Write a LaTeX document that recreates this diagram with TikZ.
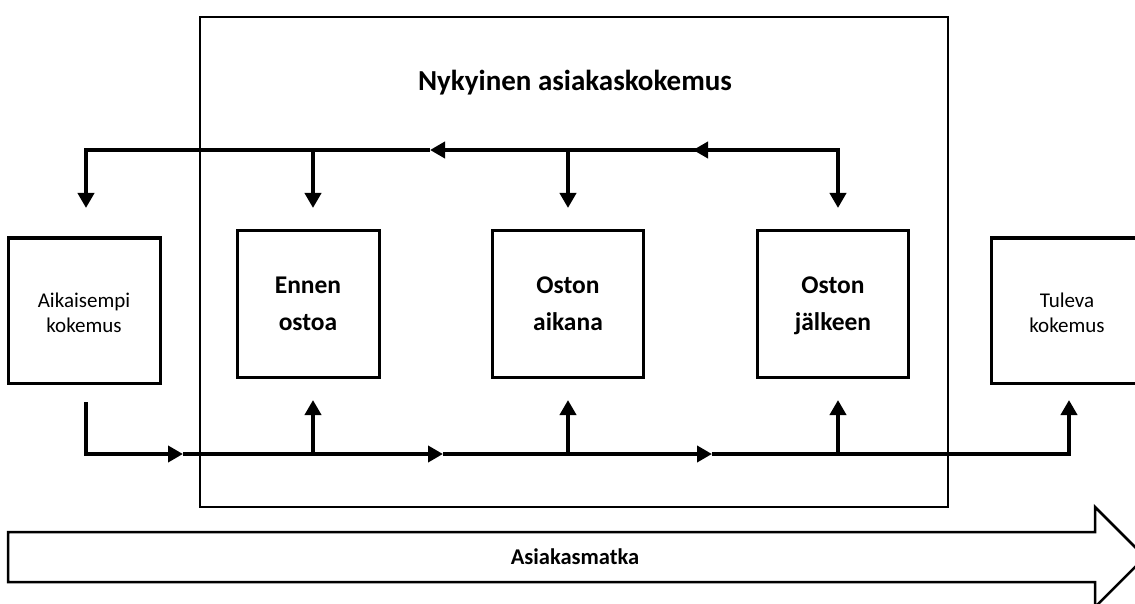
\documentclass[tikz,border=0pt]{standalone}
\usepackage{fontspec}
\setmainfont{Carlito}
\usetikzlibrary{arrows.meta}
\begin{document}
\begin{tikzpicture}[x=1pt,y=-1pt,
  tip/.tip={Triangle[width=16pt,length=15pt]},
  flow/.style={line width=4pt,line join=miter,-tip},
  stagebox/.style={draw,line width=3pt,minimum height=146pt,inner sep=0pt,
    align=center,text height=55pt,text depth=3pt,
    font=\fontsize{25.5}{37}\selectfont\bfseries},
  sidebox/.style={draw,line width=3pt,minimum width=152pt,minimum height=145pt,
    inner sep=0pt,align=center,text height=48pt,text depth=5pt,
    font=\fontsize{21}{25}\selectfont},
  frame/.style={draw,line width=2pt,inner sep=0pt},
  heading/.style={font=\fontsize{29}{34}\selectfont\bfseries},
  banner/.style={font=\fontsize{22.5}{27}\selectfont\bfseries}]
\useasboundingbox (0,0) rectangle (1135,604);

% outer frame of the current customer experience
\node[frame,minimum width=748pt,minimum height=490pt] (current) at (574,262) {};
\node[heading,anchor=base] (title) at (575,91) {Nykyinen asiakaskokemus};

% experience boxes
\node[sidebox] (prev) at (84,310.5) {Aikaisempi\\kokemus};
\node[stagebox,minimum width=142pt] (before) at (308,304) {Ennen\\ostoa};
\node[stagebox,minimum width=151pt] (during) at (568,304) {Oston\\aikana};
\node[stagebox,minimum width=151pt] (after) at (833,304) {Oston\\jälkeen};
\node[sidebox] (next) at (1067,310.5) {Tuleva\\kokemus};

% feedback line along the top
\coordinate (tl) at (86,150);
\coordinate (tr) at (838,150);
\coordinate (ta) at (693,150);
\coordinate (tb) at (430,150);
\coordinate (t1) at (313,150);
\coordinate (t2) at (568,150);
\coordinate (d0) at (86,208);
\coordinate (d1) at (313,208);
\coordinate (d2) at (568,208);
\coordinate (d3) at (838,208);
\draw[flow] (tr) -- (ta);
\draw[flow] (ta) -- (tb);
\draw[flow] (tb) -| (d0);
\draw[flow] (ta) -| (d3);
\draw[flow] (t1) -- (d1);
\draw[flow] (t2) -- (d2);

% forward line along the bottom
\coordinate (b0) at (86,402);
\coordinate (ba) at (183,454);
\coordinate (bb) at (443,454);
\coordinate (bc) at (712,454);
\coordinate (j1) at (313,454);
\coordinate (j2) at (568,454);
\coordinate (j3) at (838,454);
\coordinate (u1) at (313,400);
\coordinate (u2) at (568,400);
\coordinate (u3) at (838,400);
\coordinate (u4) at (1069,400);
\draw[flow] (b0) |- (ba);
\draw[flow] (ba) -- (bb);
\draw[flow] (bb) -- (bc);
\draw[flow] (bc) -| (u4);
\draw[flow] (j1) -- (u1);
\draw[flow] (j2) -- (u2);
\draw[flow] (j3) -- (u3);

% customer journey arrow
\draw[line width=2.5pt,line join=miter]
  (8,532) -- (1095,532) -- (1095,507) -- (1145,557) -- (1095,607)
  -- (1095,582) -- (8,582) -- cycle;
\node[banner] (journey) at (575,557) {Asiakasmatka};
\end{tikzpicture}
\end{document}
